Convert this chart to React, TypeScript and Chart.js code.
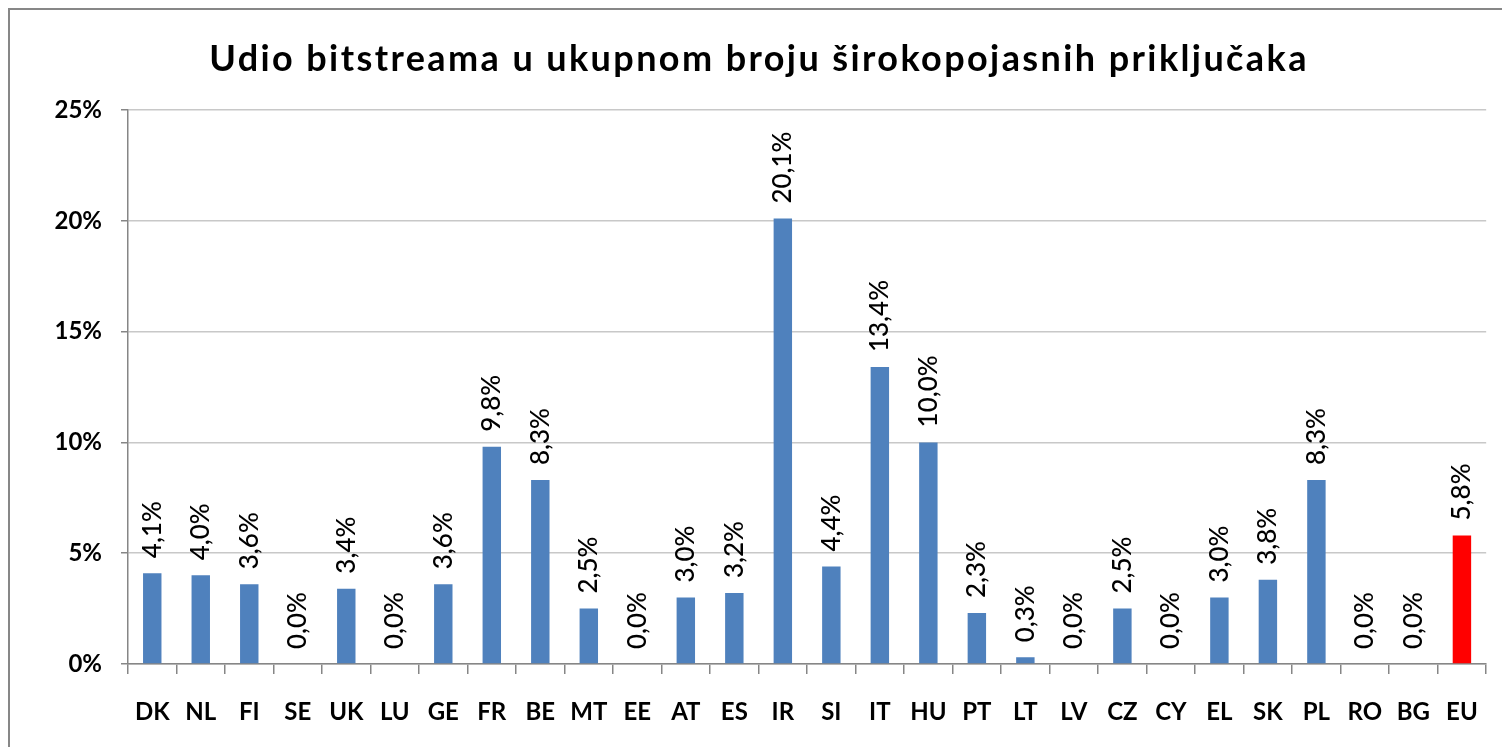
import React, { useEffect, useRef } from "react";
import { Chart, registerables } from "chart.js";

Chart.register(...registerables);

const TITLE = "Udio bitstreama u ukupnom broju širokopojasnih priključaka";
const CATEGORIES = ["DK","NL","FI","SE","UK","LU","GE","FR","BE","MT","EE","AT","ES","IR","SI","IT","HU","PT","LT","LV","CZ","CY","EL","SK","PL","RO","BG","EU"];
const VALUES = [4.1,4.0,3.6,0.0,3.4,0.0,3.6,9.8,8.3,2.5,0.0,3.0,3.2,20.1,4.4,13.4,10.0,2.3,0.3,0.0,2.5,0.0,3.0,3.8,8.3,0.0,0.0,5.8];
const Y_TICKS = [0, 5, 10, 15, 20, 25];
const BAR_COLOR = "#4F81BD";
const EU_COLOR = "#FF0000";

const FONT = "Lato, 'Open Sans', sans-serif";

const decorPlugin = {
  id: "decor",
  beforeDraw(chart: any) {
    const ctx = chart.ctx;
    ctx.save();
    ctx.fillStyle = "#ffffff";
    ctx.fillRect(0, 0, chart.width, chart.height);
    ctx.strokeStyle = "#878787";
    ctx.lineWidth = 2;
    ctx.beginPath();
    ctx.moveTo(9, chart.height + 2);
    ctx.lineTo(9, 9);
    ctx.lineTo(chart.width + 2, 9);
    ctx.stroke();
    ctx.fillStyle = "#000000";
    ctx.font = `bold 36px ${FONT}`;
    (ctx as any).letterSpacing = "2.4px";
    ctx.textAlign = "center";
    ctx.textBaseline = "alphabetic";
    ctx.fillText(TITLE, 759, 71);
    ctx.restore();
  },
  afterDatasetsDraw(chart: any) {
    const ctx = chart.ctx;
    const meta = chart.getDatasetMeta(0);
    const data = chart.data.datasets[0].data as number[];
    ctx.save();
    ctx.fillStyle = "#000000";
    ctx.font = `500 26px ${FONT}`;
    ctx.textAlign = "left";
    ctx.textBaseline = "middle";
    meta.data.forEach((bar: any, i: number) => {
      const label = data[i].toFixed(1).replace(".", ",") + "%";
      ctx.save();
      ctx.translate(bar.x, bar.y - 15);
      ctx.rotate(-Math.PI / 2);
      ctx.fillText(label, 0, 0);
      ctx.restore();
    });
    ctx.restore();
  },
};

export default function App() {
  const ref = useRef<HTMLCanvasElement>(null);
  useEffect(() => {
    if (!ref.current) return;
    const chart = new Chart(ref.current, {
      type: "bar",
      data: {
        labels: CATEGORIES,
        datasets: [
          {
            data: VALUES,
            backgroundColor: CATEGORIES.map((c) => (c === "EU" ? EU_COLOR : BAR_COLOR)),
            barPercentage: 0.38,
            categoryPercentage: 1,
          },
        ],
      },
      options: {
        responsive: false,
        animation: false,
        layout: { padding: { top: 110, left: 0, right: 15, bottom: 0 } },
        plugins: { legend: { display: false }, title: { display: false }, tooltip: { enabled: false } },
        scales: {
          x: {
            afterFit: (scale: any) => { scale.height = 83; },
            grid: { display: true, drawOnChartArea: false, offset: true, tickLength: 10, tickColor: "#868686", lineWidth: 1.5 },
            border: { display: true, color: "#868686", width: 1.5 },
            ticks: { color: "#000", font: { family: FONT, size: 24, weight: "bold" }, padding: 24, maxRotation: 0, autoSkip: false },
          },
          y: {
            min: 0,
            max: 25,
            afterFit: (scale: any) => { scale.width = 128; },
            afterBuildTicks: (scale: any) => { scale.ticks = Y_TICKS.map((v) => ({ value: v })); },
            grid: { color: "#C8C8C8", tickColor: "#868686", tickLength: 7, lineWidth: 1.5 },
            border: { display: true, color: "#868686", width: 1.5 },
            ticks: { color: "#000", font: { family: FONT, size: 24, weight: "bold" }, padding: 19, callback: (v: any) => v + "%" },
          },
        },
      },
      plugins: [decorPlugin],
    });
    return () => chart.destroy();
  }, []);
  return (
    <div style={{ position: "absolute", left: 0, top: 0, width: 1502, height: 747 }}>
      <canvas ref={ref} width={1502} height={747} style={{ display: "block" }} />
    </div>
  );
}
